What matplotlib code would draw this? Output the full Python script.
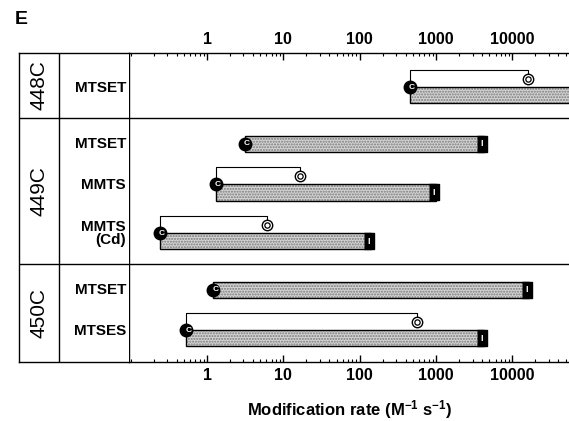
import numpy as np
import matplotlib
matplotlib.use("Agg")
import matplotlib.pyplot as plt
from matplotlib.ticker import FixedLocator, NullFormatter

plt.rcParams['font.family'] = ['Liberation Sans', 'DejaVu Sans']
plt.rcParams['mathtext.fontset'] = 'custom'
plt.rcParams['mathtext.bf'] = 'Liberation Sans:bold'
plt.rcParams['mathtext.rm'] = 'Liberation Sans:bold'
plt.rcParams['mathtext.default'] = 'bf'

# data (M^-1 s^-1)
groups = ['448C', '449C', '450C']
group_rows = [1, 3, 2]
reagents = ['MTSET', 'MTSET', 'MMTS', 'MMTS\n(Cd)', 'MTSET', 'MTSES']
closed_rate = [450, 3.1, 1.3, 0.24, 1.2, 0.53]
open_rate = [16000, np.nan, 16.5, 6.1, np.nan, 565]
inact_rate = [1e5, 4300, 1000, 141, 16600, 4300]
tick_vals = [1, 10, 100, 1000, 10000]
tick_labels = ['1', '10', '100', '1000', '10000']

fig = plt.figure(figsize=(5.69, 4.21), dpi=100)
W, H = 569, 421
top_px, bot_px = 53, 362
ax = fig.add_axes([129 / W, (H - bot_px) / H, (W - 129) / W, (bot_px - top_px) / H])
lax = fig.add_axes([19 / W, (H - bot_px) / H, 110 / W, (bot_px - top_px) / H])

row_px = 48.6
ymax = (bot_px - top_px) / row_px
off = 0.87
bh = 0.33
xmax = 55000

for a in (ax, lax):
    a.set_ylim(ymax, 0)
    a.set_yticks([])

ax.set_xscale('log')
ax.set_xlim(0.095, xmax)

for i in range(len(reagents)):
    c = i + off
    x0 = closed_rate[i]
    x1 = inact_rate[i]
    ax.barh(c, x1 - x0, left=x0, height=bh, color='#d4d4d4', hatch='......',
            edgecolor='#7a7a7a', linewidth=0, zorder=2)
    ax.barh(c, x1 - x0, left=x0, height=bh, fill=False, edgecolor='black',
            linewidth=1.0, zorder=3)
    has_open = not np.isnan(open_rate[i])
    if has_open:
        ytop = c - bh / 2
        ybr = ytop - 0.35
        yo = c - 0.335
        ax.plot([x0, x0, open_rate[i], open_rate[i]], [ytop, ybr, ybr, yo - 0.07],
                color='black', lw=0.8, zorder=3)
        ax.plot(open_rate[i], yo, 'o', ms=7.5, mfc='white', mec='black', mew=1.0, zorder=5)
        ax.plot(open_rate[i], yo, 'o', ms=3.8, mfc='white', mec='black', mew=0.9, zorder=6)
        yc = ytop
    else:
        yc = c
    ax.plot(x0, yc, 'o', ms=9, color='black', zorder=5)
    ax.text(x0 * 1.07, yc, 'C', color='white', fontsize=6, fontweight='bold',
            ha='center', va='center', zorder=6)
    if x1 < xmax:
        ax.plot(x1 * 0.93, c, marker=[(-0.55, -1), (0.55, -1), (0.55, 1), (-0.55, 1)],
                ms=12, color='black', zorder=5)
        ax.text(x1 * 0.93, c, 'I', color='white', fontsize=6.5, fontweight='bold',
                ha='center', va='center', zorder=6)
    ly = c - 0.16 if has_open else c
    lax.text(107, ly, reagents[i], ha='right', va='center', fontsize=11,
             fontweight='bold', linespacing=0.95)

# group separators and labels
edges = np.cumsum([0] + group_rows)
for k, g in enumerate(groups):
    y0 = 0 if k == 0 else edges[k] + off - 0.53
    y1 = ymax if k == len(groups) - 1 else edges[k + 1] + off - 0.53
    if k > 0:
        ax.axhline(y0, color='black', lw=1.0)
        lax.axhline(y0, color='black', lw=1.0)
    lax.text(20, (y0 + y1) / 2, g, rotation=90, ha='center', va='center', fontsize=15)

lax.set_xlim(0, 110)
lax.set_xticks([])
lax.axvline(40, color='black', lw=1.0)
lax.spines['right'].set_visible(False)
for s in ['left', 'top', 'bottom']:
    lax.spines[s].set_linewidth(1.0)

ax.spines['right'].set_visible(False)
for s in ['left', 'top', 'bottom']:
    ax.spines[s].set_linewidth(1.0)
ax.xaxis.set_major_locator(FixedLocator(tick_vals))
ax.set_xticklabels(tick_labels)
minor = [m * 10.0 ** e for e in range(-1, 5) for m in range(1, 10) if m * 10.0 ** e not in tick_vals]
ax.xaxis.set_minor_locator(FixedLocator(minor))
ax.xaxis.set_minor_formatter(NullFormatter())
ax.tick_params(axis='x', which='both', direction='in', top=True, bottom=True,
               labeltop=True, labelbottom=True, labelsize=11.5, pad=4)
ax.tick_params(axis='x', which='major', length=5, width=1)
ax.tick_params(axis='x', which='minor', length=2.5, width=0.8)
for lab in ax.get_xticklabels():
    lab.set_fontweight('bold')

fig.text(350 / W, (H - 410) / H, r'Modification rate (M$^{-1}$ s$^{-1}$)',
         ha='center', va='center', fontsize=12, fontweight='bold')
fig.text(15 / W, (H - 20) / H, 'E', ha='left', va='center', fontsize=14, fontweight='bold')

fig.savefig('out.png', dpi=100)
